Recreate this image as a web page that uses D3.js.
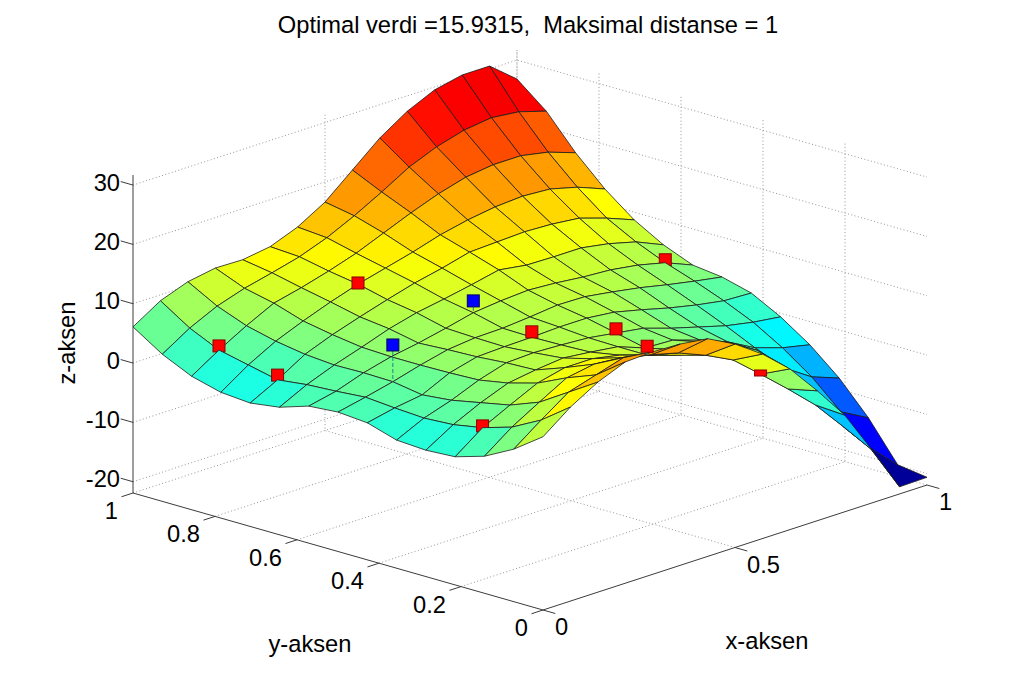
<!DOCTYPE html>
<html><head><meta charset="utf-8">
<script src="https://cdn.jsdelivr.net/npm/d3@7/dist/d3.min.js"></script>
<style>html,body{margin:0;padding:0;background:#fff}svg{display:block}text{font-family:"Liberation Sans",Arial,sans-serif;fill:#000;white-space:pre}</style>
</head><body><svg id="chart" width="1024" height="685"></svg>
<script>
// Surface heights: one row per x grid index, values run from y=1 down to y=0
const zGridRows = [
 [6.1,2.9,0.6,-0.7,-1.1,-0.4,1.2,1.6,1.2,-0.3,-0.6,-0.3,1.2,3.8,7.3],
 [9.0,5.8,3.5,2.4,1.3,1.9,2.2,2.6,2.2,1.9,2.2,3.1,4.6,7.2,10.8],
 [10.7,8.0,6.1,4.9,4.1,3.7,3.8,3.7,2.9,3.4,4.4,5.4,7.3,10.4,13.5],
 [11.5,9.5,8.4,6.8,5.9,5.2,5.0,5.0,5.1,5.3,6.2,7.6,9.9,11.8,15.4],
 [11.4,10.6,9.5,8.5,7.4,6.8,5.8,6.1,6.3,6.7,6.9,8.7,10.7,13.2,15.6],
 [12.1,11.8,10.8,10.0,8.8,8.0,6.8,6.6,6.5,6.9,7.4,8.7,10.3,12.2,15.4],
 [13.9,13.5,12.3,11.2,10.1,8.8,7.9,6.7,6.6,6.7,6.9,7.8,9.2,11.0,14.8],
 [16.6,15.7,14.2,12.4,11.1,9.7,8.4,7.1,6.8,6.4,6.3,6.3,7.7,9.1,12.4],
 [20.5,18.2,16.1,13.8,12.3,10.7,8.7,7.6,6.8,5.7,4.6,5.7,6.7,6.8,9.2],
 [24.4,20.9,17.8,14.8,12.5,10.0,8.4,7.5,6.3,5.0,4.4,5.5,5.2,2.9,5.2],
 [27.4,22.8,19.1,15.5,12.7,9.9,7.9,6.8,5.2,3.5,2.9,3.8,3.2,-1.1,0.0],
 [29.5,24.1,19.7,15.8,12.5,9.9,7.6,6.0,4.0,2.2,1.1,1.1,-0.3,-5.3,-5.6],
 [30.5,24.7,19.7,15.5,12.0,9.1,6.9,5.0,3.0,0.9,-1.4,-3.4,-5.7,-10.4,-13.0],
 [30.5,24.2,18.8,14.3,10.5,7.9,5.8,4.1,2.2,0.0,-2.9,-6.4,-10.9,-15.6,-20.7],
 [26.8,22.8,17.2,12.5,8.7,5.9,3.9,3.3,2.0,-0.6,-3.9,-8.1,-13.4,-19.9,-20.6]
];
const gridSteps = 14;
// Markers: grid indices (x index, y index) and height
const redXIndex = [1,1,5,6,8,7,1,13,9];
const redYIndex = [12,10,11,6,5,3,3,8,1];
const redZ      = [4.2,2.1,10.2,7.5,6.4,7.8,3.4,6.3,3.6];
const redOnTop  = [false,false,true,true,true,true,false,false,true];
const blueXIndex = [2,6];
const blueYIndex = [7,8];
const blueZ      = [9.9,9.9];
const xTicks = [0,0.5,1];
const yTicks = [0,0.2,0.4,0.6,0.8,1];
const zTicks = [-20,-10,0,10,20,30];
const xDomain=[0,1], yDomain=[0,1], zDomain=[-21.9,31.7];
const colorDomain=[-22,30];
const titleText = "Optimal verdi =15.9315,  Maksimal distanse = 1";

// Orthographic projection assembled from linear scales
const xToSx=d3.scaleLinear().domain(xDomain).range([543,927]);
const yToSx=d3.scaleLinear().domain(yDomain).range([0,-410]);
const xToSy=d3.scaleLinear().domain(xDomain).range([610,485]);
const yToSy=d3.scaleLinear().domain(yDomain).range([0,-117]);
const zToSy=d3.scaleLinear().domain(zDomain).range([0,-318]);
const px=(x,y,z)=>[xToSx(x)+yToSx(y), xToSy(x)+yToSy(y)+zToSy(z)];
const depth=(x,y)=>410*x+384*y;
const color=d3.scaleLinear().domain([0,0.125,0.375,0.625,0.875,1].map(t=>colorDomain[0]+t*(colorDomain[1]-colorDomain[0]))).range([
 "#000080","#0000ff","#00ffff","#ffff00","#ff0000","#e00000"]).clamp(true);
const gridX=i=>i/gridSteps, gridY=k=>k/gridSteps;
const zAt=(i,k)=>zGridRows[i][gridSteps-k];

const svg=d3.select("#chart");
const line=d3.line();
const seg=(a,b)=>line([a,b]);

// Grid
const gridG=svg.append("g").attr("fill","none").attr("stroke","#8a8a8a").attr("stroke-width",0.9).attr("stroke-dasharray","1 2.4");
const zB=zDomain[0], zT=zDomain[1];
zTicks.forEach(z=>{
  gridG.append("path").attr("d",line([px(0,1,z),px(1,1,z),px(1,0,z)]));
});
xTicks.forEach(x=>{
  if(x>0) gridG.append("path").attr("d",line([px(x,0,zB),px(x,1,zB),px(x,1,zT)]));
});
yTicks.forEach(y=>{
  if(y>0) gridG.append("path").attr("d",line([px(0,y,zB),px(1,y,zB),px(1,y,zT)]));
});

// Axes
const axG=svg.append("g").attr("fill","none").attr("stroke","#3c3c3c").attr("stroke-width",1);
axG.append("path").attr("d",line([px(0,1,zT),px(0,1,zB),px(0,0,zB),px(1,0,zB)]));
zTicks.forEach(z=>axG.append("path").attr("d",seg(px(0,1,z),px(0,1.03,z))));
yTicks.forEach(y=>axG.append("path").attr("d",seg(px(0,y,zB),px(-0.03,y,zB))));
xTicks.forEach(x=>axG.append("path").attr("d",seg(px(x,0,zB),px(x,-0.03,zB))));

// Surface cells + markers in back-to-front order
const items=[];
d3.range(gridSteps).forEach(i=>d3.range(gridSteps).forEach(k=>{
  items.push({type:"cell",i,k,d:depth(gridX(i+0.5),gridY(k+0.5))});
}));
const addMarker=(i,k,z,fill,edge,top,n)=>items.push({type:"marker",i,k,z,fill,edge,n,d:top?-1e6:depth(gridX(i),gridY(k))-5});
redXIndex.forEach((i,n)=>addMarker(i,redYIndex[n],redZ[n],"#ff0000","#8a0000",redOnTop[n],n));
blueXIndex.forEach((i,n)=>addMarker(i,blueYIndex[n],blueZ[n],"#0000ff","#000060",true,-1));
items.sort((a,b)=>b.d-a.d);
const surf=svg.append("g");
items.forEach(it=>{
  if(it.type==="cell"){
    const {i,k}=it;
    const pts=[[i,k],[i+1,k],[i+1,k+1],[i,k+1]].map(([a,b])=>px(gridX(a),gridY(b),zAt(a,b)));
    surf.append("path").attr("d",line(pts)+"Z").attr("fill",color(zAt(i,k)))
      .attr("stroke","#1c1c1c").attr("stroke-width",0.8).attr("stroke-linejoin","round");
  } else {
    const c=px(gridX(it.i),gridY(it.k),it.z), b=px(gridX(it.i),gridY(it.k),zAt(it.i,it.k));
    surf.append("path").attr("d",seg(c,b)).attr("stroke","#0a8a8a").attr("stroke-width",1).attr("stroke-dasharray","4 2").attr("fill","none");
    // the marker at (9,1) is half sunk in the ridge: only its lower part shows
    const cut=(it.n===8)?6:0;
    surf.append("rect").attr("x",c[0]-6).attr("y",c[1]-6+cut).attr("width",12).attr("height",12-cut)
      .attr("fill",it.fill).attr("stroke",it.edge).attr("stroke-width",1);
  }
});

// Texts
const fs=23.7;
const T=(s,x,y,o={})=>svg.append("text").attr("x",x).attr("y",y).attr("text-anchor",o.a||"middle")
   .attr("font-size",fs).attr("transform",o.r?`rotate(${o.r} ${x} ${y})`:null).text(s);
T(titleText,528,33);
zTicks.forEach(z=>{const p=px(0,1,z);T(String(z),p[0]-13,p[1]+5.5,{a:"end"});});
yTicks.forEach(y=>{const p=px(0,y,zB);T(String(y),p[0]-15,p[1]+26,{a:"end"});});
xTicks.forEach(x=>{const p=px(x,0,zB);T(String(x),p[0]+12,p[1]+25,{a:"start"});});
T("z-aksen",75,343,{r:-90});
T("y-aksen",310,652);
T("x-aksen",767,649);
</script></body></html>
